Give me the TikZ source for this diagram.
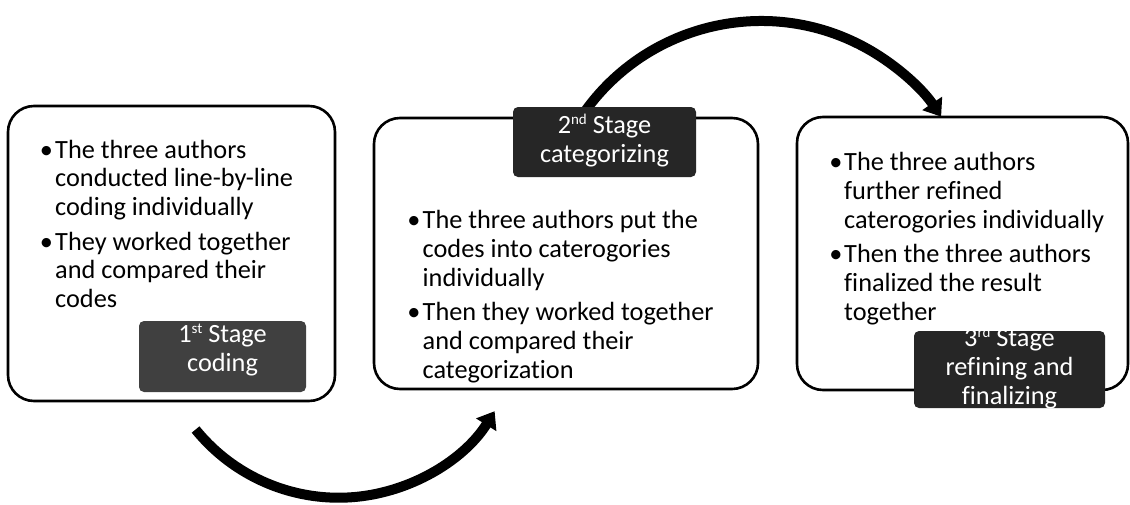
\documentclass[tikz,border=0pt]{standalone}
\usepackage{fontspec}
\setmainfont{Carlito}[Ligatures=NoCommon]
\usetikzlibrary{arrows.meta}
\definecolor{labA}{HTML}{404040}
\definecolor{labB}{HTML}{262626}
\tikzset{
  stagebox/.style={draw=black, line width=2.6pt, rounded corners=26pt, fill=white,
    rectangle, inner sep=0pt, outer sep=0pt, anchor=north west},
  tag/.style={rectangle, rounded corners=5pt, inner sep=0pt, outer sep=0pt, anchor=north west},
  ln/.style={anchor=base west, inner sep=0pt, font=\fontsize{26.3}{28.8}\selectfont, text=black},
  dot/.style={anchor=base, inner sep=0pt, font=\fontsize{26.3}{28.8}\selectfont, text=black},
  lbl/.style={anchor=base, inner sep=0pt, font=\fontsize{26.3}{28.8}\selectfont, text=white},
  flow/.style={line width=10pt, -{Triangle[length=16pt,width=23pt]}},
}
\newcommand{\supr}[1]{\raisebox{0.35em}{\fontsize{15}{15}\selectfont #1}}
\begin{document}
\begin{tikzpicture}[x=1pt,y=-1pt]
\useasboundingbox (0,0) rectangle (1130,504);
% stage boxes
\node[stagebox, minimum width=327pt, minimum height=295pt] (box1) at (8,106) {};
\node[stagebox, minimum width=384pt, minimum height=271pt] (box2) at (374,118) {};
\node[stagebox, minimum width=331pt, minimum height=273pt] (box3) at (797,117) {};
% connectors
\coordinate (a1s) at (195.6,429.5);
\draw[flow] (a1s) arc[start angle=141, end angle=32, radius=184];
\coordinate (a2s) at (573.3,129.5);
\draw[flow] (a2s) arc[start angle=-150, end angle=-34, radius=217];
% box 1 text
\node[dot] (d11) at (46.5,158) {•};
\node[ln] (t11) at (55,158) {The three authors};
\node[ln] (t12) at (55,186.8) {conducted line-by-line};
\node[ln] (t13) at (55,215.6) {coding individually};
\node[dot] (d12) at (46.5,250.1) {•};
\node[ln] (t14) at (55,250.1) {They worked together};
\node[ln] (t15) at (55,278.9) {and compared their};
\node[ln] (t16) at (55,307.7) {codes};
% box 2 text
\node[dot] (d21) at (414,228.5) {•};
\node[ln] (t21) at (422.5,228.5) {The three authors put the};
\node[ln] (t22) at (422.5,257.3) {codes into caterogories};
\node[ln] (t23) at (422.5,286.1) {individually};
\node[dot] (d22) at (414,320.6) {•};
\node[ln] (t24) at (422.5,320.6) {Then they worked together};
\node[ln] (t25) at (422.5,349.4) {and compared their};
\node[ln] (t26) at (422.5,378.2) {categorization};
% box 3 text
\node[dot] (d31) at (836,170.5) {•};
\node[ln] (t31) at (844,170.5) {The three authors};
\node[ln] (t32) at (844,199.3) {further refined};
\node[ln] (t33) at (844,228.1) {caterogories individually};
\node[dot] (d32) at (836,262.6) {•};
\node[ln] (t34) at (844,262.6) {Then the three authors};
\node[ln] (t35) at (844,291.4) {finalized the result};
\node[ln] (t36) at (844,320.2) {together};
% stage labels
\node[tag, fill=labA, minimum width=167pt, minimum height=71pt] (lab1) at (139,321) {};
\node[lbl] (l11) at (222.5,342.5) {1\supr{st} Stage};
\node[lbl] (l12) at (222.5,371.3) {coding};
\node[tag, fill=labB, minimum width=183pt, minimum height=70pt] (lab2) at (513,107) {};
\node[lbl] (l21) at (604.5,133.5) {2\supr{nd} Stage};
\node[lbl] (l22) at (604.5,162.3) {categorizing};
\node[tag, fill=labB, minimum width=191pt, minimum height=77pt] (lab3) at (914,331) {};
\begin{scope}
  \clip[rounded corners=5pt] (lab3.north west) rectangle (lab3.south east);
  \node[lbl] (l31) at (1009.5,346.5) {3\supr{rd} Stage};
  \node[lbl] (l32) at (1009.5,375.3) {refining and};
  \node[lbl] (l33) at (1009.5,404.1) {finalizing};
\end{scope}
\end{tikzpicture}
\end{document}
